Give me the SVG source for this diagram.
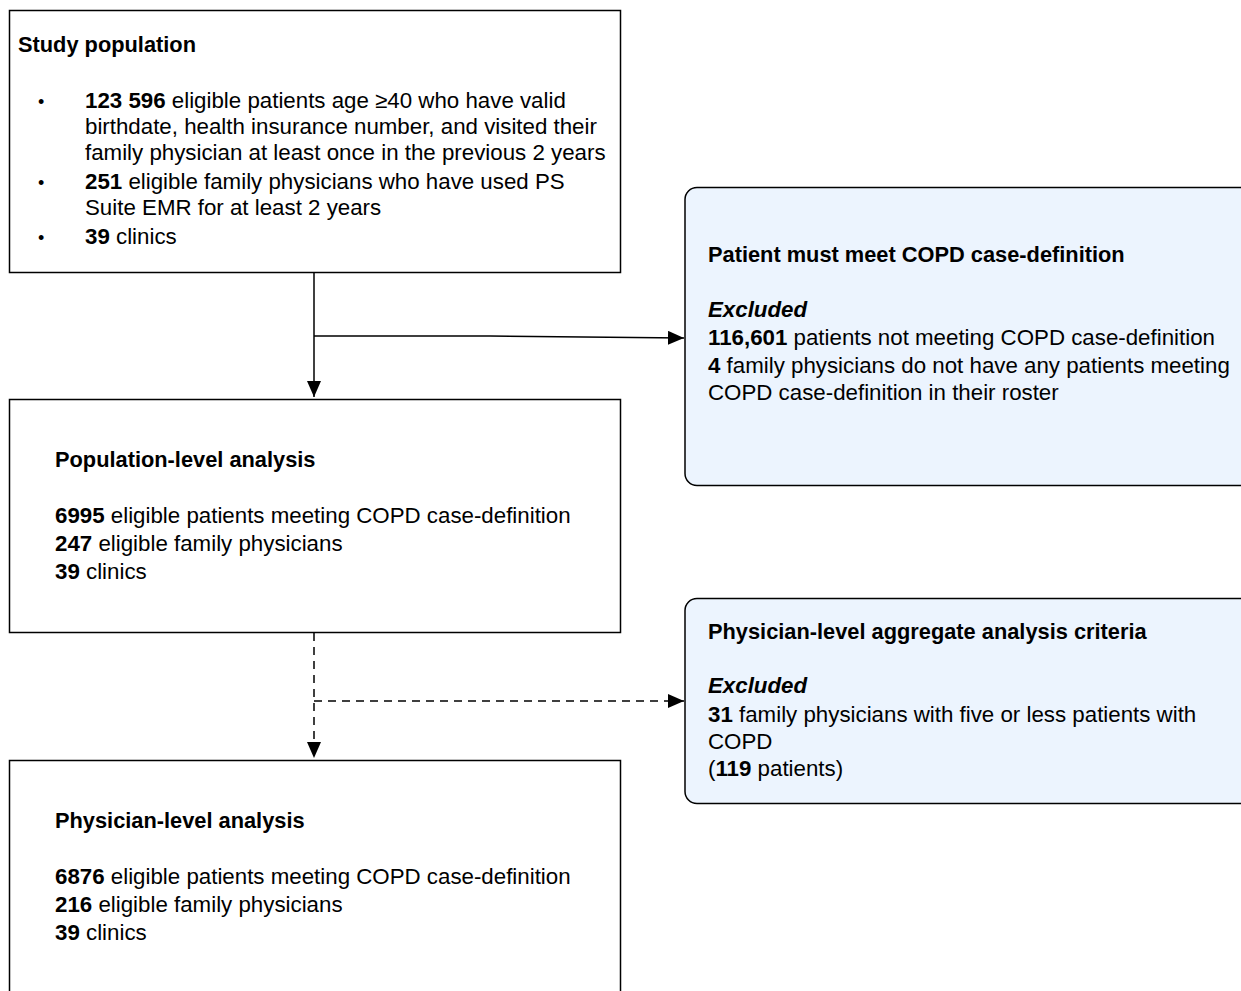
<svg xmlns="http://www.w3.org/2000/svg" width="1241" height="991" viewBox="0 0 1241 991">
<defs>
<style>
text{font-family:"Liberation Sans",Arial,Helvetica,sans-serif;font-size:22.3px;fill:#000}
.b{font-weight:bold}
.t{font-weight:bold;font-size:21.8px}
.i{font-weight:bold;font-style:italic}
.box{fill:#fff;stroke:#000;stroke-width:1.5}
.ex{fill:#ECF4FE;stroke:#000;stroke-width:1.5}
.ln{fill:none;stroke:#000;stroke-width:1.5}
.dash{stroke-dasharray:8 6}
.bul{font-size:18px}
</style>
<marker id="arr" viewBox="0 0 16 14" refX="16" refY="7" markerWidth="16" markerHeight="14" markerUnits="userSpaceOnUse" orient="auto">
<path d="M0,0 L16,7 L0,14 Z" fill="#000"/>
</marker>
</defs>
<rect width="1241" height="991" fill="#fff"/>
<g id="connectors">
<path class="ln" d="M314,272 V397" marker-end="url(#arr)"/>
<path class="ln" d="M314,336 H490 L684,338" marker-end="url(#arr)"/>
<path class="ln dash" d="M314,633 V758" marker-end="url(#arr)"/>
<path class="ln dash" d="M314,701 H684" marker-end="url(#arr)"/>
</g>
<g id="study-population">
<rect class="box" x="9.5" y="10.5" width="611" height="262"/>
<text x="18" y="52" class="t">Study population</text>
<text x="38" y="108" class="bul">•</text>
<text x="85" y="108"><tspan class="b">123 596</tspan> eligible patients age ≥40 who have valid</text>
<text x="85" y="134">birthdate, health insurance number, and visited their</text>
<text x="85" y="160">family physician at least once in the previous 2 years</text>
<text x="38" y="189" class="bul">•</text>
<text x="85" y="189"><tspan class="b">251</tspan> eligible family physicians who have used PS</text>
<text x="85" y="215">Suite EMR for at least 2 years</text>
<text x="38" y="244" class="bul">•</text>
<text x="85" y="244"><tspan class="b">39</tspan> clinics</text>
</g>
<g id="population-level">
<rect class="box" x="9.5" y="399.5" width="611" height="233"/>
<text x="55" y="467" class="t">Population-level analysis</text>
<text x="55" y="523"><tspan class="b">6995</tspan> eligible patients meeting COPD case-definition</text>
<text x="55" y="551"><tspan class="b">247</tspan> eligible family physicians</text>
<text x="55" y="579"><tspan class="b">39</tspan> clinics</text>
</g>
<g id="physician-level">
<rect class="box" x="9.5" y="760.5" width="611" height="240"/>
<text x="55" y="828" class="t">Physician-level analysis</text>
<text x="55" y="884"><tspan class="b">6876</tspan> eligible patients meeting COPD case-definition</text>
<text x="55" y="912"><tspan class="b">216</tspan> eligible family physicians</text>
<text x="55" y="940"><tspan class="b">39</tspan> clinics</text>
</g>
<g id="copd-exclusion">
<rect class="ex" x="685" y="187.5" width="580" height="298" rx="12" ry="12"/>
<text x="708" y="262" class="t">Patient must meet COPD case-definition</text>
<text x="708" y="317" class="i">Excluded</text>
<text x="708" y="345"><tspan class="b">116,601</tspan> patients not meeting COPD case-definition</text>
<text x="708" y="373"><tspan class="b">4</tspan> family physicians do not have any patients meeting</text>
<text x="708" y="400">COPD case-definition in their roster</text>
</g>
<g id="aggregate-exclusion">
<rect class="ex" x="685" y="598.5" width="580" height="205" rx="12" ry="12"/>
<text x="708" y="639" class="t">Physician-level aggregate analysis criteria</text>
<text x="708" y="693" class="i">Excluded</text>
<text x="708" y="722"><tspan class="b">31</tspan> family physicians with five or less patients with</text>
<text x="708" y="749">COPD</text>
<text x="708" y="776">(<tspan class="b">119</tspan> patients)</text>
</g>
</svg>
